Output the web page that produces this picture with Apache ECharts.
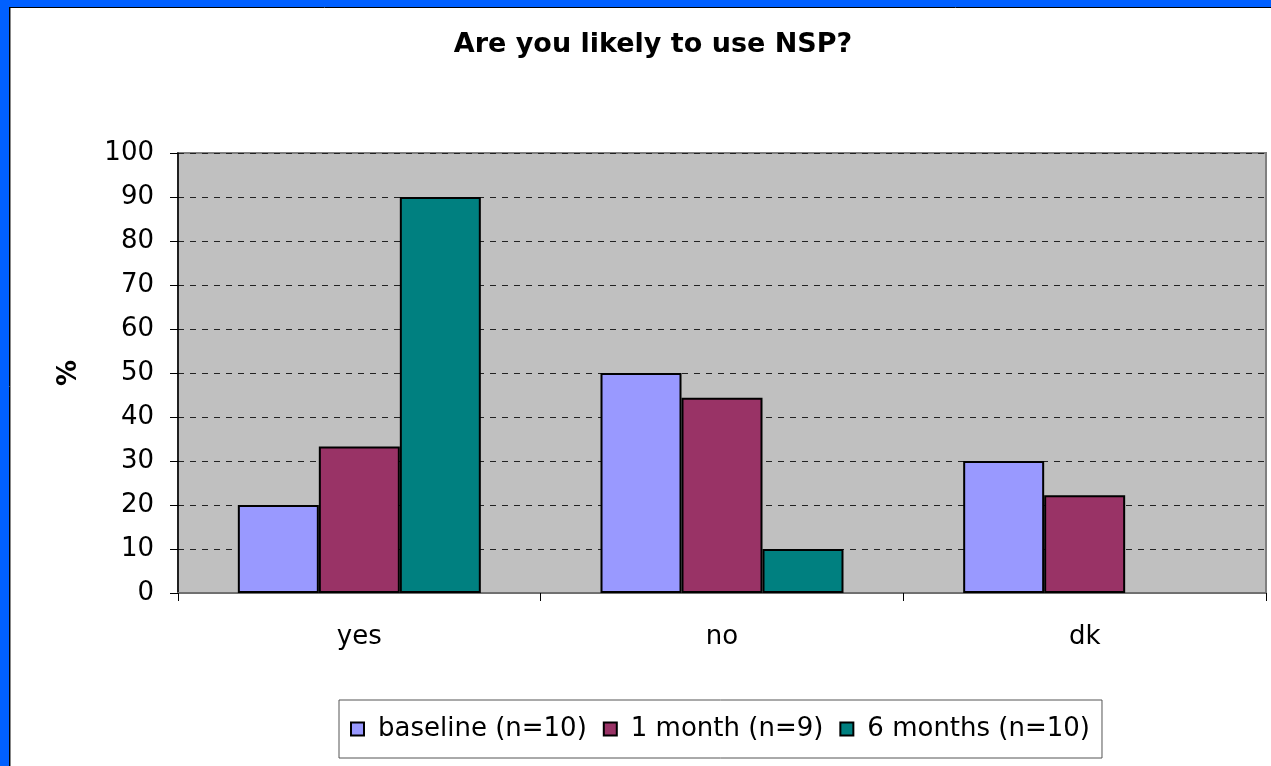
<!DOCTYPE html>
<html>
<head>
<meta charset="utf-8">
<script src="https://cdn.jsdelivr.net/npm/echarts@6/dist/echarts.min.js"></script>
<style>
html,body{margin:0;padding:0;background:#fff;}
#chart{width:1271px;height:766px;}
</style>
</head>
<body>
<div id="chart"></div>
<script>
const categories = ['yes', 'no', 'dk'];
const seriesNames = ['baseline (n=10)', '1 month (n=9)', '6 months (n=10)'];
const baseline = [20, 50, 30];
const oneMonth = [33.3, 44.4, 22.2];
const sixMonths = [90, 10, null];
const yTicks = { min: 0, max: 100, interval: 10 };
const titleText = 'Are you likely to use NSP?';
const yName = '%';

const colors = ['#9999FF', '#993366', '#008080'];
const font = 'DejaVu Sans';

const chart = echarts.init(document.getElementById('chart'), null, { renderer: 'canvas' });
const valuesList = [baseline, oneMonth, sixMonths];

chart.setOption({
  backgroundColor: '#ffffff',
  animation: false,
  color: colors,
  title: {
    text: titleText,
    left: 648,
    top: 26,
    textAlign: 'center',
    textStyle: { fontFamily: font, fontWeight: 'bold', fontSize: 27, color: '#000' }
  },
  graphic: [
    { type: 'rect', shape: { x: 0, y: 0, width: 1271, height: 7 }, style: { fill: '#0060FF' }, z: 100 },
    { type: 'rect', shape: { x: 0, y: 0, width: 9, height: 766 }, style: { fill: '#0060FF' }, z: 100 },
    { type: 'line', shape: { x1: 9.5, y1: 7, x2: 9.5, y2: 766 }, style: { stroke: '#000', lineWidth: 1 }, z: 100 },
    { type: 'line', shape: { x1: 9, y1: 7.5, x2: 1271, y2: 7.5 }, style: { stroke: '#000', lineWidth: 1 }, z: 100 },
    { type: 'line', shape: { x1: 10.5, y1: 8, x2: 10.5, y2: 766 }, style: { stroke: '#888', lineWidth: 1 }, z: 100 }
  ],
  legend: {
    left: 339,
    top: 700,
    orient: 'horizontal',
    padding: [16, 12, 16, 11],
    itemGap: 16,
    itemWidth: 13,
    itemHeight: 13,
    borderColor: '#555',
    borderWidth: 1,
    icon: 'rect',
    itemStyle: { borderColor: '#000', borderWidth: 2 },
    textStyle: { fontFamily: font, fontSize: 26, color: '#000', padding: [0, 0, 0, 9] },
    data: seriesNames
  },
  grid: {
    left: 178,
    right: 5,
    top: 153,
    bottom: 173,
    show: true,
    backgroundColor: '#C0C0C0',
    borderColor: '#808080',
    borderWidth: 2
  },
  xAxis: {
    type: 'category',
    data: categories,
    axisLine: { show: true, lineStyle: { color: '#707070', width: 2 } },
    axisTick: { show: true, length: 8, lineStyle: { color: '#000', width: 1 } },
    axisLabel: { fontFamily: font, fontSize: 26, color: '#000', margin: 31 }
  },
  yAxis: {
    type: 'value',
    min: yTicks.min,
    max: yTicks.max,
    interval: yTicks.interval,
    name: yName,
    nameLocation: 'middle',
    nameGap: 96,
    nameTextStyle: { fontFamily: font, fontWeight: 'bold', fontSize: 26, color: '#000' },
    axisLine: { show: true, lineStyle: { color: '#000', width: 1.5 } },
    axisTick: { show: true, length: 8, lineStyle: { color: '#000', width: 1 } },
    axisLabel: { fontFamily: font, fontSize: 26, color: '#000', margin: 24 },
    splitLine: { show: true, lineStyle: { color: '#222', width: 1, type: [6, 6] } }
  },
  series: seriesNames.map((name, i) => ({
    name: name,
    type: 'bar',
    data: valuesList[i],
    barGap: '0%',
    barCategoryGap: '33%',
    itemStyle: { color: colors[i], borderColor: '#000', borderWidth: 2 }
  }))
});
</script>
</body>
</html>
